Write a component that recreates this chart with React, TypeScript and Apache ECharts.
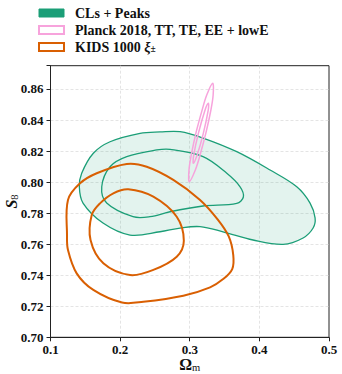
import React, { useEffect, useRef } from 'react';
import * as echarts from 'echarts';

// Axis ticks
const xTickLabels = ['0.1', '0.2', '0.3', '0.4', '0.5'];
const yTickLabels = ['0.70', '0.72', '0.74', '0.76', '0.78', '0.80', '0.82', '0.84', '0.86'];

// Series names
const seriesNames = ['CLs + Peaks', 'Planck 2018, TT, TE, EE + lowE', 'KIDS 1000 ξ±'];

// CLs + Peaks contours [Omega_m, S8]
const clsOuter: number[][] = [
  [0.1414, 0.797], [0.1448, 0.8057], [0.1615, 0.8186], [0.1855, 0.826], [0.2286, 0.8314],
  [0.2573, 0.8323], [0.2861, 0.8325], [0.3191, 0.8284], [0.3675, 0.8196], [0.4154, 0.8078],
  [0.4537, 0.797], [0.4728, 0.7865], [0.48, 0.7769], [0.4772, 0.7704], [0.4628, 0.764],
  [0.4341, 0.7599], [0.3909, 0.7627], [0.3478, 0.768], [0.3148, 0.7713], [0.2861, 0.7704],
  [0.2573, 0.768], [0.2142, 0.7659], [0.1754, 0.7736], [0.1467, 0.7865],
];
const clsInner: number[][] = [
  [0.1736, 0.797], [0.1855, 0.8099], [0.2095, 0.8164], [0.2526, 0.8207], [0.2717, 0.8211],
  [0.3191, 0.8164], [0.3532, 0.8057], [0.3723, 0.797], [0.377, 0.7904], [0.3675, 0.7863],
  [0.3191, 0.7846], [0.2717, 0.7809], [0.243, 0.7777], [0.2185, 0.7777], [0.1807, 0.7865],
];

// Planck 2018 contours
const planckOuter: number[][] = [
  [0.333, 0.8637], [0.3336, 0.8561], [0.3303, 0.8463], [0.3234, 0.832], [0.3148, 0.8175],
  [0.308, 0.8078], [0.2994, 0.8003], [0.2989, 0.8078], [0.3022, 0.8175], [0.3091, 0.832],
  [0.3177, 0.8463], [0.3244, 0.8561],
];
const planckInner: number[][] = [
  [0.3267, 0.8508], [0.3266, 0.8465], [0.3195, 0.8314], [0.3106, 0.8174], [0.3052, 0.8121],
  [0.3057, 0.8174], [0.3124, 0.8314], [0.322, 0.8465],
];

// KIDS 1000 contours
const kidsOuter: number[][] = [
  [0.1237, 0.7659], [0.1251, 0.7885], [0.1424, 0.7992], [0.1664, 0.8057], [0.2095, 0.8117],
  [0.2382, 0.8099], [0.2764, 0.8014], [0.3148, 0.7885], [0.3400, 0.7760], [0.3560, 0.7650],
  [0.3625, 0.7530], [0.3610, 0.7440], [0.3480, 0.7375], [0.3292, 0.7322], [0.2908, 0.7268],
  [0.2333, 0.7229], [0.2027, 0.7224], [0.1615, 0.7305], [0.1376, 0.7412], [0.1251, 0.7562],
];
const kidsInner: number[][] = [
  [0.2118, 0.7954], [0.2477, 0.7906], [0.2813, 0.7777], [0.2915, 0.7622], [0.2813, 0.7519],
  [0.2477, 0.7434], [0.2142, 0.7401], [0.1759, 0.7477], [0.1575, 0.7627], [0.1592, 0.7788],
  [0.1711, 0.7863], [0.1902, 0.7928],
];

const GREEN = '#1b9e77';
const ORANGE = '#d95f02';
const PINK = '#f7a3dc';
const FONT = 'Liberation Serif';

function contour(name: string, pts: number[][], stroke: string, width: number, fill?: string) {
  return {
    type: 'custom',
    name,
    coordinateSystem: 'cartesian2d',
    data: pts,
    encode: { x: 0, y: 1 },
    silent: true,
    renderItem: (params: any, api: any) => {
      if (params.dataIndex !== 0) return null;
      const points = pts.map((p) => api.coord(p));
      return {
        type: 'polygon',
        shape: { points, smooth: 0.35 },
        style: { fill: fill || 'none', stroke, lineWidth: width },
      };
    },
  };
}

export default function App() {
  const ref = useRef<HTMLDivElement>(null);
  useEffect(() => {
    document.body.style.margin = '0';
    if (!ref.current) return;
    const chart = echarts.init(ref.current, null, { renderer: 'svg' });
    chart.setOption({
      animation: false,
      backgroundColor: '#fff',
      legend: {
        orient: 'vertical',
        left: 38,
        top: 6,
        padding: 0,
        itemWidth: 25,
        itemHeight: 8,
        itemGap: 3,
        selectedMode: false,
        textStyle: {
          fontFamily: FONT,
          fontWeight: 'bold',
          fontSize: 14,
          color: '#111',
          lineHeight: 14,
          padding: [0, 0, 0, 6],
          rich: {
            i: { fontFamily: FONT, fontWeight: 'bold', fontStyle: 'italic', fontSize: 14, color: '#111', lineHeight: 14 },
            s: { fontFamily: FONT, fontWeight: 'bold', fontSize: 9.5, color: '#111', lineHeight: 9, verticalAlign: 'bottom' },
          },
        },
        formatter: (n: string) => (n === seriesNames[2] ? 'KIDS 1000 {i|ξ}{s|±}' : n),
        data: [
          { name: seriesNames[0], icon: 'rect', itemStyle: { color: GREEN, borderColor: GREEN, borderWidth: 1 } },
          { name: seriesNames[1], icon: 'rect', itemStyle: { color: '#fff', borderColor: PINK, borderWidth: 2 } },
          { name: seriesNames[2], icon: 'rect', itemStyle: { color: '#fff', borderColor: ORANGE, borderWidth: 2 } },
        ],
      },
      grid: {
        left: 50.5,
        right: 13,
        top: 65.7,
        bottom: 36.7,
        outerBoundsMode: 'none',
        containLabel: false,
        show: true,
        borderColor: '#222',
        borderWidth: 1,
        backgroundColor: 'transparent',
      },
      xAxis: {
        type: 'value',
        min: 0.1,
        max: 0.5,
        interval: 0.1,
        name: '{a|Ω}{b|m}',
        nameLocation: 'middle',
        nameGap: 18.5,
        nameMoveOverlap: false,
        nameTextStyle: {
          rich: {
            a: { fontFamily: FONT, fontWeight: 'bold', fontSize: 16, color: '#111', lineHeight: 17 },
            b: { fontFamily: FONT, fontSize: 10.5, color: '#111', lineHeight: 10, verticalAlign: 'bottom' },
          },
        },
        axisLine: { lineStyle: { color: '#222', width: 1 } },
        axisTick: { show: true, inside: false, length: 4, lineStyle: { color: '#222' } },
        axisLabel: {
          margin: 6,
          fontFamily: FONT,
          fontWeight: 'bold',
          fontSize: 13,
          color: '#111',
          formatter: (v: number) => {
            const i = Math.round((v - 0.1) / 0.1);
            return Math.abs(v - (0.1 + i * 0.1)) < 1e-6 ? xTickLabels[i] ?? '' : '';
          },
        },
        splitLine: { show: true, showMinLine: false, showMaxLine: false, lineStyle: { color: '#ddd', type: [3, 2], width: 0.8 } },
      },
      yAxis: {
        type: 'value',
        min: 0.7,
        max: 0.875,
        interval: 0.02,
        name: '{a|S}{b|8}',
        nameLocation: 'middle',
        nameGap: 31,
        nameRotate: 90,
        nameMoveOverlap: false,
        nameTextStyle: {
          rich: {
            a: { fontFamily: FONT, fontWeight: 'bold', fontStyle: 'italic', fontSize: 16, color: '#111', lineHeight: 17 },
            b: { fontFamily: FONT, fontSize: 10.5, color: '#111', lineHeight: 10, verticalAlign: 'bottom' },
          },
        },
        axisLine: { lineStyle: { color: '#222', width: 1 } },
        axisTick: { show: true, inside: false, length: 4, lineStyle: { color: '#222' } },
        axisLabel: {
          margin: 7,
          fontFamily: FONT,
          fontWeight: 'bold',
          fontSize: 13,
          color: '#111',
          formatter: (v: number) => {
            const i = Math.round((v - 0.7) / 0.02);
            return Math.abs(v - (0.7 + i * 0.02)) < 1e-6 ? yTickLabels[i] ?? '' : '';
          },
        },
        splitLine: { show: true, showMinLine: false, showMaxLine: false, lineStyle: { color: '#ddd', type: [3, 2], width: 0.8 } },
      },
      series: [
        contour(seriesNames[0], clsOuter, GREEN, 1.3, 'rgba(27,158,119,0.12)'),
        contour(seriesNames[0], clsInner, GREEN, 1.3),
        contour(seriesNames[2], kidsOuter, ORANGE, 2),
        contour(seriesNames[2], kidsInner, ORANGE, 2),
        contour(seriesNames[1], planckOuter, PINK, 1.5),
        contour(seriesNames[1], planckInner, PINK, 1.5),
      ],
    });
    return () => chart.dispose();
  }, []);
  return <div ref={ref} style={{ width: 342, height: 374 }} />;
}
